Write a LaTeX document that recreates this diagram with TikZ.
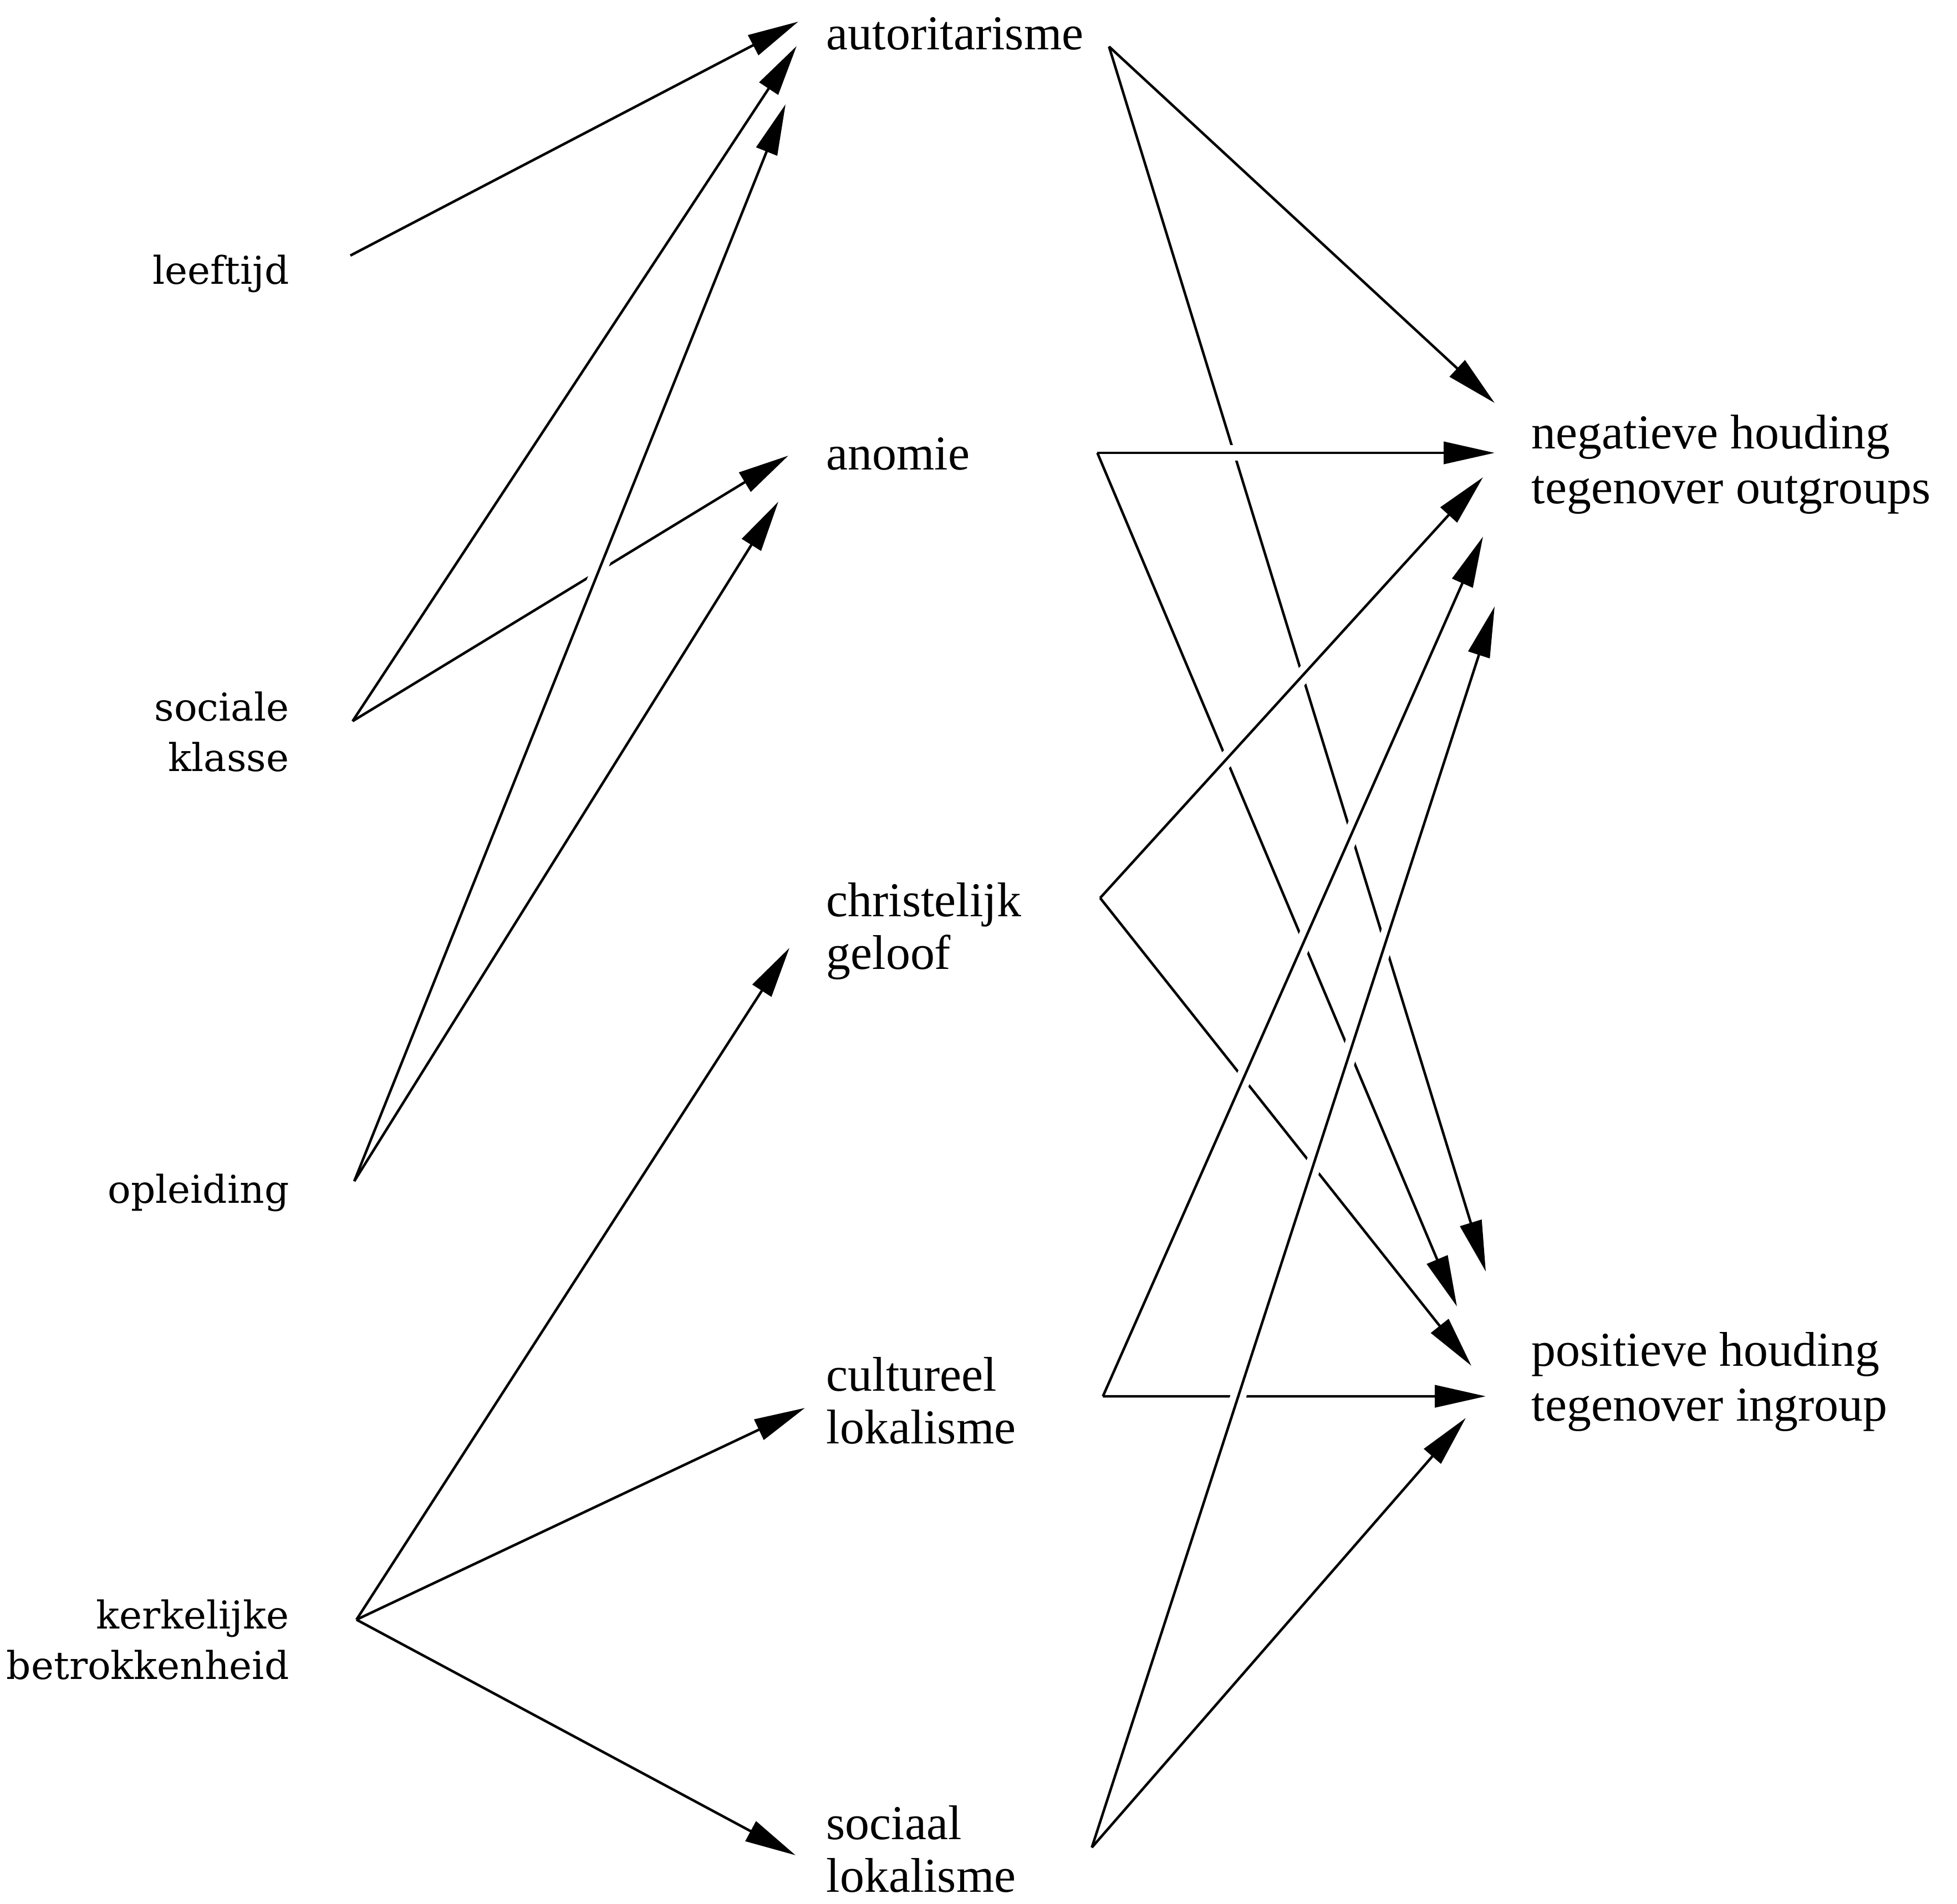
\documentclass[tikz,border=0pt]{standalone}
\usepackage{fontspec}
\setmainfont{Liberation Serif}
\newfontfamily\causefont{DejaVu Serif}
\usepackage{tikz}
\usetikzlibrary{arrows.meta, calc, positioning}

\tikzset{
  cause/.style={anchor=east, inner sep=0pt, align=right, font=\causefont\fontsize{19.7}{26}\selectfont},
  mediator/.style={anchor=west, inner sep=0pt, align=left, text width=5cm, font=\fontsize{25}{27}\selectfont},
  outcome/.style={anchor=west, inner sep=0pt, align=left, font=\fontsize{25}{28}\selectfont},
  arr/.style={line width=1.3pt, -{Triangle[length=0.92cm,width=0.4cm]},
    preaction={draw=white, line width=8pt, -, shorten <=1cm, shorten >=1.3cm}},
}

\begin{document}
\begin{tikzpicture}
 \useasboundingbox (0,0) rectangle (35.30,-34.34);

 % background variables
 \node[cause] (leeftijd)   at (5.22,-4.94)  {leeftijd};
 \node[cause] (sociale)    at (5.22,-13.20) {sociale\\klasse};
 \node[cause] (opleiding)  at (5.22,-21.52) {opleiding};
 \node[cause] (kerkelijke) at (5.22,-29.58) {kerkelijke\\betrokkenheid};

 % mediators
 \node[mediator] (autor)   at (14.90,-0.61)  {autoritarisme};
 \node[mediator] (anomie)  at (14.90,-8.19)  {anomie};
 \node[mediator] (geloof)  at (14.90,-16.80) {christelijk\\geloof};
 \node[mediator] (cultlok) at (14.90,-25.27) {cultureel\\lokalisme};
 \node[mediator] (soclok)  at (14.90,-33.36) {sociaal\\lokalisme};

 % outcomes
 \node[outcome] (neghoud) at (27.62,-8.38)  {negatieve houding\\tegenover outgroups};
 \node[outcome] (poshoud) at (27.62,-24.93) {positieve houding\\tegenover ingroup};

 % left half
 \draw[arr] ($(leeftijd.east)+(1.10,0.33)$) -- ($(autor.west)+(-0.50,0.22)$);
 \draw[arr] ($(sociale.east)+(1.14,0.19)$) -- ($(anomie.west)+(-0.68,-0.03)$);
 \draw[arr] ($(sociale.east)+(1.14,0.19)$) -- ($(autor.west)+(-0.53,-0.22)$);
 \draw[arr] ($(opleiding.east)+(1.17,0.21)$) -- ($(anomie.west)+(-0.86,-0.86)$);
 \draw[arr] ($(opleiding.east)+(1.17,0.21)$) -- ($(autor.west)+(-0.73,-1.27)$);
 \draw[arr] ($(kerkelijke.east)+(1.21,0.36)$) -- ($(geloof.west)+(-0.66,-0.30)$);
 \draw[arr] ($(kerkelijke.east)+(1.21,0.36)$) -- ($(cultlok.west)+(-0.38,-0.13)$);
 \draw[arr] ($(kerkelijke.east)+(1.21,0.36)$) -- ($(soclok.west)+(-0.55,-0.11)$);

 % right half: falling lines
 \draw[arr] ($(autor.east)+(0.09,-0.23)$) -- ($(neghoud.west)+(-0.66,1.11)$);
 \draw[arr] ($(autor.east)+(0.09,-0.23)$) -- ($(poshoud.west)+(-0.82,1.99)$);
 \draw[arr] ($(anomie.east)+(-0.12,0.02)$) -- ($(poshoud.west)+(-1.34,1.36)$);
 \draw[arr] ($(geloof.east)+(-0.07,0.60)$) -- ($(poshoud.west)+(-1.08,0.29)$);

 % right half: level lines
 \draw[arr] ($(anomie.east)+(-0.12,0.02)$) -- ($(neghoud.west)+(-0.66,0.21)$);
 \draw[arr] ($(cultlok.east)+(-0.02,0.08)$) -- ($(poshoud.west)+(-0.82,-0.26)$);

 % right half: rising lines
 \draw[arr] ($(geloof.east)+(-0.07,0.60)$) -- ($(neghoud.west)+(-0.87,-0.23)$);
 \draw[arr] ($(cultlok.east)+(-0.02,0.08)$) -- ($(neghoud.west)+(-0.87,-1.30)$);
 \draw[arr] ($(soclok.east)+(-0.22,0.03)$) -- ($(neghoud.west)+(-0.66,-2.56)$);
 \draw[arr] ($(soclok.east)+(-0.22,0.03)$) -- ($(poshoud.west)+(-1.18,-0.65)$);
\end{tikzpicture}
\end{document}
